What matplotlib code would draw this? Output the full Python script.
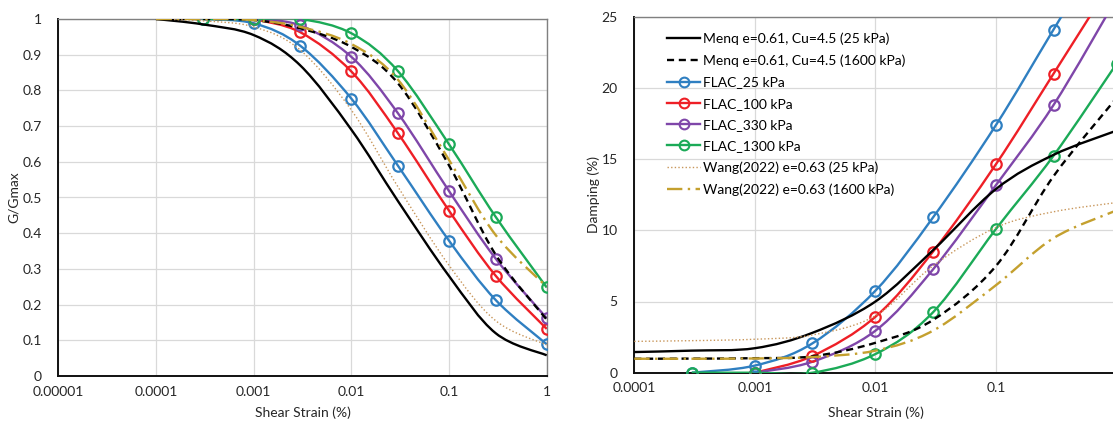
import numpy as np
import matplotlib
matplotlib.use('Agg')
import matplotlib.pyplot as plt
from matplotlib import ticker
from matplotlib.path import Path
from matplotlib.patches import PathPatch
from matplotlib.lines import Line2D

plt.rcParams['font.family'] = ['Lato', 'DejaVu Sans']

# ---- data ----
ref_strain = [0.0001, 0.0003, 0.001, 0.003, 0.01, 0.03, 0.1, 0.3, 1]
flac_strain_a = [0.0003, 0.001, 0.003, 0.01, 0.03, 0.1, 0.3, 1]   # 25 and 1300 kPa
flac_strain_b = [0.001, 0.003, 0.01, 0.03, 0.1, 0.3, 1]           # 100 and 330 kPa

# G/Gmax
g_menq_25 = [1.0, 0.985, 0.955, 0.87, 0.69, 0.49, 0.28, 0.12, 0.058]
g_menq_1600 = [1.0, 1.0, 0.997, 0.974, 0.922, 0.82, 0.59, 0.34, 0.158]
g_wang_25 = [1.0, 0.995, 0.978, 0.913, 0.745, 0.53, 0.31, 0.155, 0.087]
g_wang_1600 = [1.0, 1.0, 0.997, 0.978, 0.93, 0.83, 0.605, 0.395, 0.25]
g_flac_25 = [1.0, 0.988, 0.925, 0.777, 0.589, 0.379, 0.213, 0.089]
g_flac_100 = [1.0, 0.963, 0.853, 0.68, 0.463, 0.281, 0.132]
g_flac_330 = [1.0, 0.982, 0.894, 0.736, 0.518, 0.329, 0.162]
g_flac_1300 = [1.0, 1.0, 1.0, 0.96, 0.854, 0.649, 0.446, 0.248]

# Damping (%)
d_menq_25 = [1.45, 1.55, 1.72, 2.8, 5.0, 8.6, 12.9, 15.3, 17.0]
d_menq_1600 = [0.98, 0.99, 1.02, 1.15, 2.1, 3.7, 7.5, 13.8, 19.3]
d_wang_25 = [2.2, 2.25, 2.35, 2.65, 4.0, 7.5, 10.2, 11.3, 11.95]
d_wang_1600 = [0.98, 0.98, 1.0, 1.1, 1.55, 2.95, 6.15, 9.45, 11.4]
d_flac_25 = [0.0, 0.5, 2.06, 5.76, 10.9, 17.4, 24.1, 31.4]
d_flac_100 = [0.0, 1.17, 3.93, 8.5, 14.65, 21.0, 28.0]
d_flac_330 = [0.0, 0.77, 2.95, 7.25, 13.18, 18.8, 26.3]
d_flac_1300 = [0.0, 0.0, 0.0, 1.31, 4.24, 10.1, 15.24, 21.7]

labels = ['Menq e=0.61, Cu=4.5 (25 kPa)', 'Menq e=0.61, Cu=4.5 (1600 kPa)',
          'FLAC_25 kPa', 'FLAC_100 kPa', 'FLAC_330 kPa', 'FLAC_1300 kPa',
          'Wang(2022) e=0.63 (25 kPa)', 'Wang(2022) e=0.63 (1600 kPa)']

c_blue = '#2F7FC1'
c_red = '#EE1F26'
c_purple = '#7F46A9'
c_green = '#1BAA57'
c_dot = '#C8965A'
c_gold = '#C4A02E'

LW = 1.7
ls_dash = (0, (3.0, 2.0))
ls_dot = (0, (1, 1.6))
ls_dashdot = (0, (6.5, 2.3, 1, 2.3))


def smooth(ax, xs, ys, color, lw=LW, ls='-', z=2):
    # excel-style smoothed line: bezier through the points in (log x, y)
    pts = np.column_stack([np.log10(xs), ys])
    n = len(pts)
    verts = [pts[0]]
    codes = [Path.MOVETO]
    for i in range(n - 1):
        p0 = pts[max(i - 1, 0)]
        p1 = pts[i]
        p2 = pts[i + 1]
        p3 = pts[min(i + 2, n - 1)]
        verts += [p1 + (p2 - p0) / 6, p2 - (p3 - p1) / 6, p2]
        codes += [Path.CURVE4] * 3
    verts = np.array(verts)
    verts[:, 0] = 10 ** verts[:, 0]
    ax.add_patch(PathPatch(Path(verts, codes), fill=False, edgecolor=color,
                           lw=lw, linestyle=ls, zorder=z, capstyle='butt'))


def markers(ax, xs, ys, color, z):
    ax.plot(xs, ys, ls='none', marker='o', ms=7.5, mfc='none', mec=color,
            mew=1.6, zorder=z)


def style(ax, xmin, xmax, ymax, ystep):
    ax.set_xscale('log')
    ax.set_xlim(xmin, xmax)
    ax.set_ylim(0, ymax)
    ax.xaxis.set_major_locator(ticker.LogLocator(base=10, numticks=10))
    ax.xaxis.set_minor_locator(ticker.NullLocator())
    ax.xaxis.set_major_formatter(ticker.FuncFormatter(
        lambda v, p: np.format_float_positional(v, trim='-')))
    ax.set_yticks(np.arange(0, ymax + ystep / 2, ystep))
    ax.yaxis.set_major_formatter(ticker.FormatStrFormatter('%g'))
    ax.grid(True, color='#D9D9D9', lw=0.9)
    ax.set_axisbelow(True)
    ax.tick_params(length=0, labelsize=10, colors='#262626')
    ax.tick_params(axis='y', pad=12)
    ax.tick_params(axis='x', pad=7)
    for s in ['top', 'right']:
        ax.spines[s].set_color('#808080')
        ax.spines[s].set_linewidth(1.0)
    for s in ['bottom', 'left']:
        ax.spines[s].set_color('#111111')
        ax.spines[s].set_linewidth(1.4)


W, H = 1113, 423
fig = plt.figure(figsize=(W / 100, H / 100), dpi=100)
ax1 = fig.add_axes([58.3 / W, (H - 376) / H, 488.4 / W, 357 / H])
ax2 = fig.add_axes([634.3 / W, (H - 372.7) / H, 482.3 / W, 356 / H])

# left: G/Gmax
style(ax1, 1e-5, 1, 1, 0.1)
smooth(ax1, flac_strain_a, g_flac_25, c_blue, z=3)
smooth(ax1, flac_strain_b, g_flac_100, c_red, z=3)
smooth(ax1, flac_strain_b, g_flac_330, c_purple, z=3)
smooth(ax1, flac_strain_a, g_flac_1300, c_green, z=3)
markers(ax1, flac_strain_a, g_flac_25, c_blue, 4)
markers(ax1, flac_strain_b, g_flac_100, c_red, 4)
markers(ax1, flac_strain_b, g_flac_330, c_purple, 4)
markers(ax1, flac_strain_a, g_flac_1300, c_green, 4)
smooth(ax1, ref_strain, g_menq_25, 'black', z=5)
smooth(ax1, ref_strain, g_menq_1600, 'black', ls=ls_dash, z=5)
smooth(ax1, ref_strain, g_wang_25, c_dot, lw=1.0, ls=ls_dot, z=6)
smooth(ax1, ref_strain, g_wang_1600, c_gold, ls=ls_dashdot, z=6)
ax1.set_ylabel('G/Gmax', fontsize=10, color='#262626')
ax1.set_xlabel('Shear Strain (%)', fontsize=10, color='#262626')
ax1.yaxis.set_label_coords(-0.078, 0.5)
ax1.xaxis.set_label_coords(0.5, -0.084)

# right: damping
style(ax2, 1e-4, 1, 25, 5)
smooth(ax2, flac_strain_a, d_flac_25, c_blue, z=3)
smooth(ax2, flac_strain_b, d_flac_100, c_red, z=3)
smooth(ax2, flac_strain_b, d_flac_330, c_purple, z=3)
smooth(ax2, flac_strain_a, d_flac_1300, c_green, z=3)
markers(ax2, flac_strain_a, d_flac_25, c_blue, 4)
markers(ax2, flac_strain_b, d_flac_100, c_red, 4)
markers(ax2, flac_strain_b, d_flac_330, c_purple, 4)
markers(ax2, flac_strain_a, d_flac_1300, c_green, 4)
smooth(ax2, ref_strain, d_menq_25, 'black', z=5)
smooth(ax2, ref_strain, d_menq_1600, 'black', ls=ls_dash, z=5)
smooth(ax2, ref_strain, d_wang_25, c_dot, lw=1.0, ls=ls_dot, z=6)
smooth(ax2, ref_strain, d_wang_1600, c_gold, ls=ls_dashdot, z=6)
ax2.set_ylabel('Damping (%)', fontsize=10, color='#262626')
ax2.set_xlabel('Shear Strain (%)', fontsize=10, color='#262626')
ax2.yaxis.set_label_coords(-0.071, 0.5)
ax2.xaxis.set_label_coords(0.5, -0.094)

mk = dict(marker='o', ms=7, mfc='none', mew=1.5)
handles = [
    Line2D([], [], color='black', lw=LW),
    Line2D([], [], color='black', lw=LW, ls=ls_dash),
    Line2D([], [], color=c_blue, lw=LW, mec=c_blue, **mk),
    Line2D([], [], color=c_red, lw=LW, mec=c_red, **mk),
    Line2D([], [], color=c_purple, lw=LW, mec=c_purple, **mk),
    Line2D([], [], color=c_green, lw=LW, mec=c_green, **mk),
    Line2D([], [], color=c_dot, lw=1.0, ls=ls_dot),
    Line2D([], [], color=c_gold, lw=LW, ls=ls_dashdot),
]
ax2.legend(handles, labels, loc='upper left', bbox_to_anchor=(0.068, 0.955),
           frameon=False, fontsize=10, handlelength=2.4, handletextpad=0.2,
           labelspacing=0.67, borderpad=0, borderaxespad=0)

fig.savefig('out.png', dpi=100)
